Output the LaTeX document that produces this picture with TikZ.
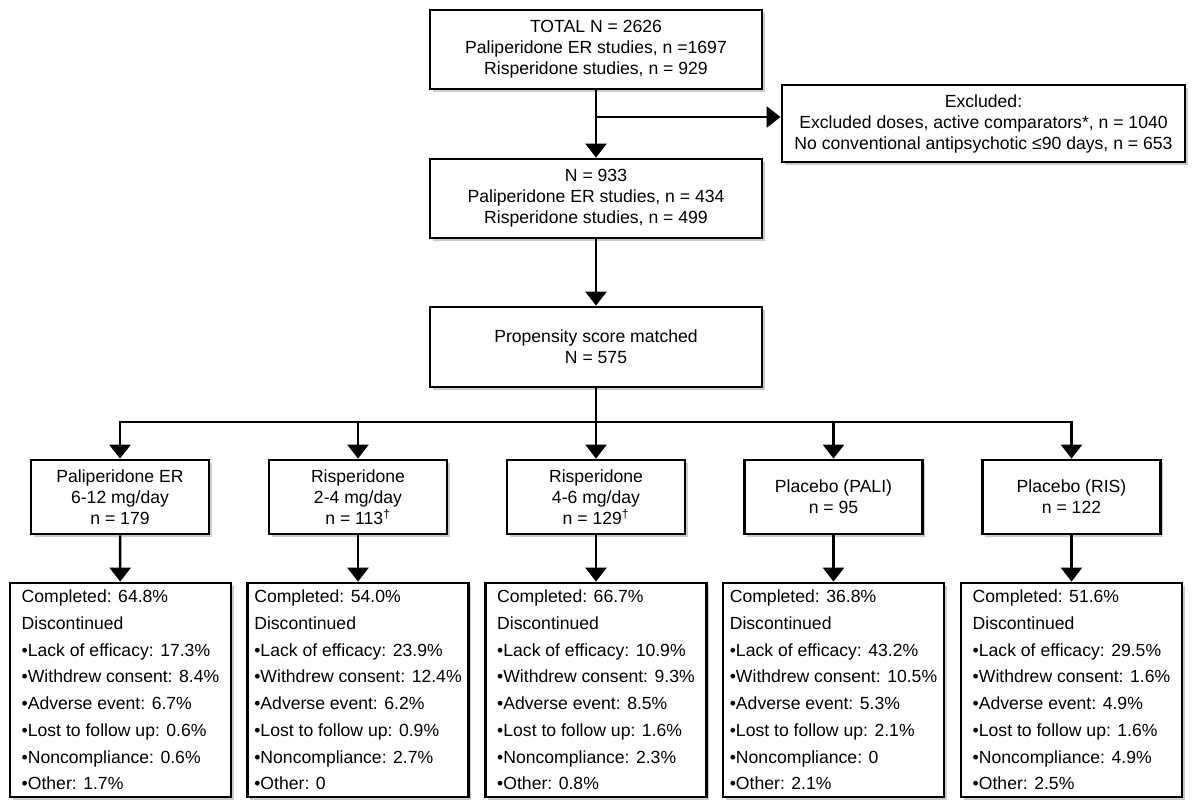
\documentclass[tikz,border=0pt]{standalone}
\usepackage{fontspec}
\setmainfont{Liberation Sans}
\usetikzlibrary{arrows.meta}
\usetikzlibrary{shadows}

\begin{document}
\begin{tikzpicture}[x=1pt,y=-1pt,
    box/.style={draw,line width=2.8pt,fill=white,
      drop shadow={shadow xshift=2.5pt,shadow yshift=-2.5pt,opacity=0.4},
      align=center,inner sep=0pt,font=\fontsize{17.6}{21}\selectfont},
    listbox/.style={box,align=left,minimum width=221pt,minimum height=214pt,
      font=\fontsize{17.6}{26.7}\selectfont},
    armbox/.style={box,minimum width=178pt,minimum height=74pt},
    arr/.style={line width=2.6pt,-{Triangle[width=21pt,length=14pt]}}]
      \useasboundingbox (0,0) rectangle (1200,811);
      \node (total) at (596,49.5) [box,minimum width=332pt,minimum height=79pt]
        {TOTAL N = 2626\\Paliperidone ER studies, n =1697\\Risperidone studies, n = 929};
      \node (excl) at (983.5,123.5) [box,minimum width=403pt,minimum height=77pt]
        {Excluded:\\Excluded doses, active comparators*, n = 1040\\No conventional antipsychotic ≤90 days, n = 653};
      \node (kept) at (596,198.5) [box,minimum width=332pt,minimum height=79pt]
        {N = 933\\Paliperidone ER studies, n = 434\\Risperidone studies, n = 499};
      \node (matched) at (596,347) [box,minimum width=332pt,minimum height=80pt]
        {Propensity score matched\\N = 575};
      \node (pali) at (120,497) [armbox] {Paliperidone ER\\6-12 mg/day\\n = 179};
      \node (rislow) at (358,497) [armbox] {Risperidone\\2-4 mg/day\\n = 113\textsuperscript{†}};
      \node (rishigh) at (596,497) [armbox] {Risperidone\\4-6 mg/day\\n = 129\textsuperscript{†}};
      \node (plpali) at (833.5,497) [armbox] {Placebo (PALI)\\n = 95};
      \node (plris) at (1071.5,497) [armbox] {Placebo (RIS)\\n = 122};
      \node (outpali) at (120.5,690) [listbox] {Completed: 64.8\%\\Discontinued\\•Lack of efficacy: 17.3\%\\•Withdrew consent: 8.4\%\\•Adverse event: 6.7\%\\•Lost to follow up: 0.6\%\\•Noncompliance: 0.6\%\\•Other: 1.7\%};
      \node (outrislow) at (358,690) [listbox] {Completed: 54.0\%\\Discontinued\\•Lack of efficacy: 23.9\%\\•Withdrew consent: 12.4\%\\•Adverse event: 6.2\%\\•Lost to follow up: 0.9\%\\•Noncompliance: 2.7\%\\•Other: 0};
      \node (outrishigh) at (596,690) [listbox] {Completed: 66.7\%\\Discontinued\\•Lack of efficacy: 10.9\%\\•Withdrew consent: 9.3\%\\•Adverse event: 8.5\%\\•Lost to follow up: 1.6\%\\•Noncompliance: 2.3\%\\•Other: 0.8\%};
      \node (outplpali) at (833.5,690) [listbox] {Completed: 36.8\%\\Discontinued\\•Lack of efficacy: 43.2\%\\•Withdrew consent: 10.5\%\\•Adverse event: 5.3\%\\•Lost to follow up: 2.1\%\\•Noncompliance: 0\\•Other: 2.1\%};
      \node (outplris) at (1071.5,690) [listbox] {Completed: 51.6\%\\Discontinued\\•Lack of efficacy: 29.5\%\\•Withdrew consent: 1.6\%\\•Adverse event: 4.9\%\\•Lost to follow up: 1.6\%\\•Noncompliance: 4.9\%\\•Other: 2.5\%};
      \coordinate (split) at (596,117);
      \coordinate (fork) at (596,422);
      \draw[arr] (total) -- (kept);
      \draw[arr] (split) -- (split -| excl.west);
      \draw[arr] (kept) -- (matched);
      \draw[arr] (matched) -- (rishigh);
      \draw[arr] (fork) -| (pali);
      \draw[arr] (fork) -| (plris);
      \draw[arr] (fork -| rislow) -- (rislow);
      \draw[arr] (fork -| plpali) -- (plpali);
      \draw[arr] (pali) -- (outpali);
      \draw[arr] (rislow) -- (outrislow);
      \draw[arr] (rishigh) -- (outrishigh);
      \draw[arr] (plpali) -- (outplpali);
      \draw[arr] (plris) -- (outplris);
    \end{tikzpicture}
\end{document}
